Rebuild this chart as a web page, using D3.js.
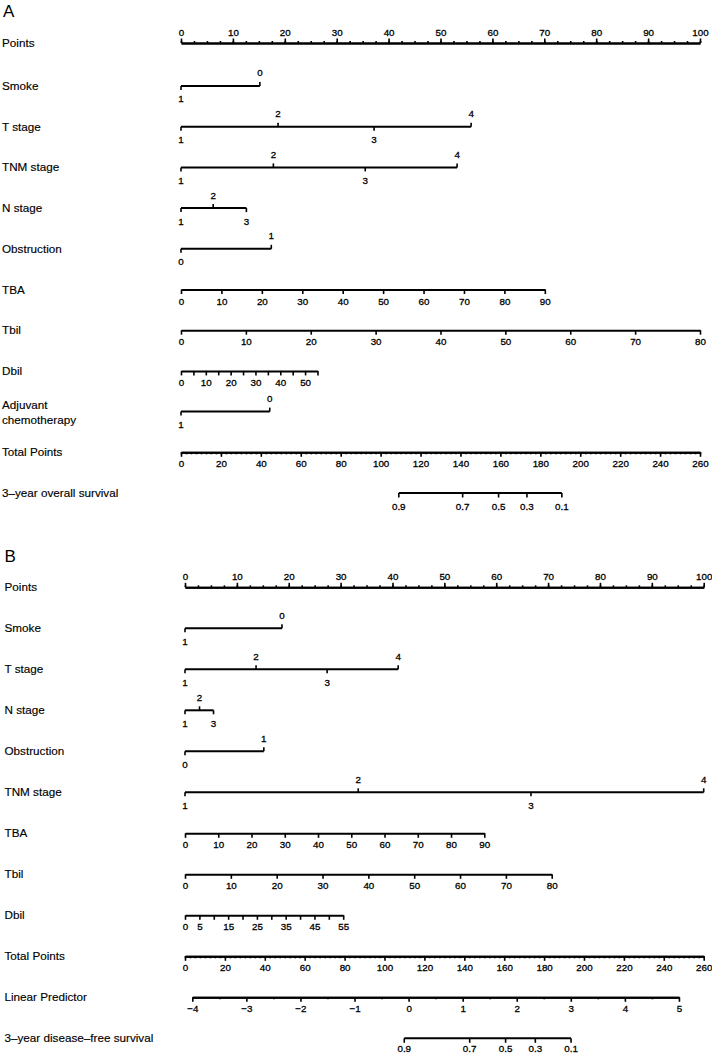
<!DOCTYPE html>
<html><head><meta charset="utf-8">
<script src="https://cdn.jsdelivr.net/npm/d3@7"></script>
<style>
body{margin:0;background:#fff;}
svg{display:block;}
text{font-family:"Liberation Sans",Arial,Helvetica,sans-serif;fill:#000;}
.tk{stroke:#000;stroke-width:0.3px;}
</style></head><body>
<svg id="chart" width="712" height="1054"></svg>
<script>
// ---------- shared tick labels ----------
const pointsTicks = [0,10,20,30,40,50,60,70,80,90,100];
const pointsMinor = d3.range(0, 100.01, 2.5);
const totalTicks = [0,20,40,60,80,100,120,140,160,180,200,220,240,260];
const totalMinor = d3.range(0, 260.01, 2.5);
const survLabels = ["0.9","0.7","0.5","0.3","0.1"];

// ---------- Panel A (in points) ----------
const aRowNames = ["Points","Smoke","T stage","TNM stage","N stage","Obstruction","TBA","Tbil","Dbil","Adjuvant|chemotherapy","Total Points","3–year overall survival"];
const aSmokeLevels = ["1","0"],        aSmokePoints = [0, 15.2];
const aTLevels = ["1","2","3","4"],     aTPoints = [0, 18.7, 37.2, 55.9];
const aTNMLevels = ["1","2","3","4"],   aTNMPoints = [0, 17.8, 35.5, 53.2];
const aNLevels = ["1","2","3"],         aNPoints = [0, 6.2, 12.6];
const aObsLevels = ["0","1"],           aObsPoints = [0, 17.4];
const aTBATicks = [0,10,20,30,40,50,60,70,80,90],   aTBAMaxPoints = 70.1;
const aTbilTicks = [0,10,20,30,40,50,60,70,80],     aTbilMaxPoints = 100;
const aDbilTicks = [0,5,10,15,20,25,30,35,40,45,50,55], aDbilLabels = [0,10,20,30,40,50], aDbilMaxPoints = 26.3;
const aChemoLevels = ["1","0"],         aChemoPoints = [0, 17.1];
const aOSTotal = [109.1, 141.1, 159.1, 173.3, 190.8];

// ---------- Panel B ----------
const bRowNames = ["Points","Smoke","T stage","N stage","Obstruction","TNM stage","TBA","Tbil","Dbil","Total Points","Linear Predictor","3–year disease–free survival"];
const bSmokeLevels = ["1","0"],         bSmokePoints = [0, 18.7];
const bTLevels = ["1","2","3","4"],     bTPoints = [0, 13.7, 27.4, 41.1];
const bNLevels = ["1","2","3"],         bNPoints = [0, 2.8, 5.5];
const bObsLevels = ["0","1"],           bObsPoints = [0, 15.2];
const bTNMLevels = ["1","2","3","4"],   bTNMPoints = [0, 33.4, 66.7, 100];
const bTBATicks = [0,10,20,30,40,50,60,70,80,90],   bTBAMaxPoints = 57.7;
const bTbilTicks = [0,10,20,30,40,50,60,70,80],     bTbilMaxPoints = 70.7;
const bDbilTicks = [0,5,10,15,20,25,30,35,40,45,50,55], bDbilLabels = [0,5,15,25,35,45,55], bDbilMaxPoints = 30.5;
const bLPTicks = [-4,-3,-2,-1,0,1,2,3,4,5];
const bLPMinor = [-3.5,-2.5,-1.5,-0.5,0.5,1.5,2.5,3.5,4.5];
const bLPTotalRange = [3.66, 247.6];
const bDFSTotal = [109.9, 142.7, 160.7, 175.6, 193.5];

// ---------- drawing ----------
const svg = d3.select("#chart");
const LW = 2, TW = 1.6, FS_TICK = 9.8, FS_LAB = 11.7;
const fmtMinus = d => String(d).replace("-", "\u2212");

function styleAxis(g){
  g.select(".domain").attr("stroke","#000").attr("stroke-width",LW);
  g.selectAll(".tick line").attr("stroke","#000").attr("stroke-width",TW);
  g.selectAll(".tick text").attr("fill","#000").attr("class","tk").style("font-size",FS_TICK+"px")
    .style("font-family",'"Liberation Sans",Arial,sans-serif');
}

function contAxis(g, y, scale, ticks, labels, minor, top){
  const mk = top ? d3.axisTop : d3.axisBottom;
  if (minor) {
    const gm = g.append("g").attr("transform",`translate(0,${y})`)
      .call(mk(scale).tickValues(minor).tickSize(2).tickSizeOuter(0).tickFormat(""));
    styleAxis(gm);
  }
  const ga = g.append("g").attr("transform",`translate(0,${y})`)
    .call(mk(scale).tickValues(ticks).tickSize(4.5).tickSizeOuter(0)
      .tickPadding(top ? 3 : 3.6)
      .tickFormat(d => labels.includes(d) ? fmtMinus(d) : ""));
  styleAxis(ga);
}

function catAxis(g, y, x, levels, pts){
  const order = d3.range(levels.length).sort((a,b)=>pts[a]-pts[b]);
  g.append("line").attr("x1",x(d3.min(pts))).attr("x2",x(d3.max(pts)))
    .attr("y1",y).attr("y2",y).attr("stroke","#000").attr("stroke-width",LW);
  order.forEach((idx, k) => {
    const below = k % 2 === 0;
    const px = x(pts[idx]);
    g.append("line").attr("x1",px).attr("x2",px).attr("y1",y)
      .attr("y2", below ? y+4 : y-4).attr("stroke","#000").attr("stroke-width",TW);
    g.append("text").attr("class","tk").attr("x",px).attr("y", below ? y+13 : y-13).attr("dy","0.35em")
      .attr("text-anchor","middle").style("font-size",FS_TICK+"px").text(levels[idx]);
  });
}

function rowLabel(g, lx, y, name){
  const parts = name.split("|");
  const t = g.append("text").attr("x",lx).style("font-size",FS_LAB+"px")
    .attr("stroke","#000").attr("stroke-width",0.15);
  if (parts.length === 1) {
    t.attr("y",y).attr("dy","0.35em").text(parts[0]);
  } else {
    t.append("tspan").attr("x",lx).attr("y",y-7).attr("dy","0.35em").text(parts[0]);
    t.append("tspan").attr("x",lx).attr("y",y+8.3).attr("dy","0.35em").text(parts[1]);
  }
}

function survAxis(g, y, total, labels, totalsArr, labOff){
  const vals = totalsArr;
  g.append("line").attr("x1",total(d3.min(vals))).attr("x2",total(d3.max(vals)))
    .attr("y1",y).attr("y2",y).attr("stroke","#000").attr("stroke-width",LW);
  vals.forEach((v,i)=>{
    const px = total(v);
    g.append("line").attr("x1",px).attr("x2",px).attr("y1",y).attr("y2",y+4.5)
      .attr("stroke","#000").attr("stroke-width",TW);
    g.append("text").attr("class","tk").attr("x",px).attr("y",y+labOff).attr("dy","0.35em")
      .attr("text-anchor","middle").style("font-size",FS_TICK+"px").text(labels[i]);
  });
}

// ---------- Panel A ----------
(function(){
  const g = svg.append("g");
  const x = d3.scaleLinear().domain([0,100]).range([181,700]);
  const total = d3.scaleLinear().domain([0,260]).range([181,700]);
  const rowY = i => i === 0 ? 43 : d3.scaleLinear().domain([1,11]).range([86,493])(i);
  const lx = 2;
  g.append("text").attr("x",3).attr("y",16.5).style("font-size","17px").text("A");
  aRowNames.forEach((n,i)=>rowLabel(g, lx, rowY(i), n));

  contAxis(g, rowY(0), x, pointsTicks, pointsTicks, pointsMinor, true);
  catAxis(g, rowY(1), x, aSmokeLevels, aSmokePoints);
  catAxis(g, rowY(2), x, aTLevels, aTPoints);
  catAxis(g, rowY(3), x, aTNMLevels, aTNMPoints);
  catAxis(g, rowY(4), x, aNLevels, aNPoints);
  catAxis(g, rowY(5), x, aObsLevels, aObsPoints);
  const tba = d3.scaleLinear().domain([0, d3.max(aTBATicks)]).range([x(0), x(aTBAMaxPoints)]);
  contAxis(g, rowY(6), tba, aTBATicks, aTBATicks, null, false);
  const tbil = d3.scaleLinear().domain([0, d3.max(aTbilTicks)]).range([x(0), x(aTbilMaxPoints)]);
  contAxis(g, rowY(7), tbil, aTbilTicks, aTbilTicks, null, false);
  const dbil = d3.scaleLinear().domain([0, d3.max(aDbilTicks)]).range([x(0), x(aDbilMaxPoints)]);
  contAxis(g, rowY(8), dbil, aDbilTicks, aDbilLabels, null, false);
  catAxis(g, rowY(9), x, aChemoLevels, aChemoPoints);
  contAxis(g, rowY(10), total, totalTicks, totalTicks, totalMinor, false);
  survAxis(g, rowY(11), total, survLabels, aOSTotal, 13.5);
})();

// ---------- Panel B ----------
(function(){
  const g = svg.append("g");
  const x = d3.scaleLinear().domain([0,100]).range([185,703.7]);
  const total = d3.scaleLinear().domain([0,260]).range([185,703.7]);
  const rowY = d3.scaleLinear().domain([0,11]).range([587.3,1038.3]);
  const lx = 4.5;
  g.append("text").attr("x",4.5).attr("y",561.5).style("font-size","17px").text("B");
  bRowNames.forEach((n,i)=>rowLabel(g, lx, rowY(i), n));

  contAxis(g, rowY(0), x, pointsTicks, pointsTicks, pointsMinor, true);
  catAxis(g, rowY(1), x, bSmokeLevels, bSmokePoints);
  catAxis(g, rowY(2), x, bTLevels, bTPoints);
  catAxis(g, rowY(3), x, bNLevels, bNPoints);
  catAxis(g, rowY(4), x, bObsLevels, bObsPoints);
  catAxis(g, rowY(5), x, bTNMLevels, bTNMPoints);
  const tba = d3.scaleLinear().domain([0, d3.max(bTBATicks)]).range([x(0), x(bTBAMaxPoints)]);
  contAxis(g, rowY(6), tba, bTBATicks, bTBATicks, null, false);
  const tbil = d3.scaleLinear().domain([0, d3.max(bTbilTicks)]).range([x(0), x(bTbilMaxPoints)]);
  contAxis(g, rowY(7), tbil, bTbilTicks, bTbilTicks, null, false);
  const dbil = d3.scaleLinear().domain([0, d3.max(bDbilTicks)]).range([x(0), x(bDbilMaxPoints)]);
  contAxis(g, rowY(8), dbil, bDbilTicks, bDbilLabels, null, false);
  contAxis(g, rowY(9), total, totalTicks, totalTicks, totalMinor, false);
  const lp = d3.scaleLinear().domain(d3.extent(bLPTicks)).range(bLPTotalRange.map(total));
  contAxis(g, rowY(10), lp, bLPTicks, bLPTicks, bLPMinor, false);
  survAxis(g, rowY(11), total, survLabels, bDFSTotal, 9.8);
})();
</script>
</body></html>
